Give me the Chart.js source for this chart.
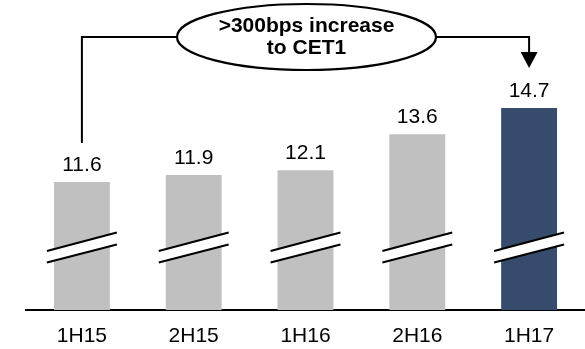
<!DOCTYPE html>
<html>
<head>
<meta charset="utf-8">
<script src="https://cdn.jsdelivr.net/npm/chart.js@4.4.1/dist/chart.umd.min.js"></script>
<style>
html,body{margin:0;padding:0;background:#fff;}
#wrap{width:585px;height:349px;position:relative;}
</style>
</head>
<body>
<div id="wrap"><canvas id="c" width="585" height="349"></canvas></div>
<script>
const categories = ['1H15', '2H15', '1H16', '2H16', '1H17'];
const cet1Values = [11.6, 11.9, 12.1, 13.6, 14.7];
const barColors = ['#C0C0C0', '#C0C0C0', '#C0C0C0', '#C0C0C0', '#374B6C'];
const calloutLines = ['>300bps increase', 'to CET1'];
const yMin = 6.24;
const yMax = 19.23;

const FONT = '"Liberation Sans", Arial, sans-serif';

const decorations = {
  id: 'decorations',
  afterDatasetsDraw(chart) {
    const ctx = chart.ctx;
    const meta = chart.getDatasetMeta(0);
    const area = chart.chartArea;
    const b = area.bottom;
    ctx.save();
    // break marks
    meta.data.forEach((bar) => {
      const half = bar.width / 2;
      const x0 = bar.x - half - 7, x1 = bar.x + half + 7;
      const uL = b - 59, uR = b - 77.5, lL = b - 47.5, lR = b - 65.5;
      ctx.fillStyle = '#fff';
      ctx.beginPath();
      ctx.moveTo(x0, uL); ctx.lineTo(x1, uR); ctx.lineTo(x1, lR); ctx.lineTo(x0, lL);
      ctx.closePath(); ctx.fill();
      ctx.strokeStyle = '#000'; ctx.lineWidth = 2;
      ctx.beginPath(); ctx.moveTo(x0, uL); ctx.lineTo(x1, uR); ctx.stroke();
      ctx.beginPath(); ctx.moveTo(x0, lL); ctx.lineTo(x1, lR); ctx.stroke();
    });
    // value labels
    ctx.fillStyle = '#000';
    ctx.font = '21px ' + FONT;
    ctx.textAlign = 'center';
    ctx.textBaseline = 'alphabetic';
    meta.data.forEach((bar, i) => {
      ctx.fillText(cet1Values[i].toFixed(1), bar.x, bar.y - 11);
    });
    // callout
    const xa = meta.data[0].x, xb = meta.data[meta.data.length - 1].x;
    const cx = 306.5, cy = 37, rx = 129.5, ry = 33;
    ctx.strokeStyle = '#000'; ctx.lineWidth = 2;
    ctx.beginPath();
    ctx.moveTo(xa, 143); ctx.lineTo(xa, cy); ctx.lineTo(cx - rx, cy);
    ctx.stroke();
    ctx.beginPath();
    ctx.moveTo(cx + rx, cy); ctx.lineTo(xb, cy); ctx.lineTo(xb, 54);
    ctx.stroke();
    ctx.fillStyle = '#000';
    ctx.beginPath();
    ctx.moveTo(xb - 8.5, 52); ctx.lineTo(xb + 8.5, 52); ctx.lineTo(xb, 68);
    ctx.closePath(); ctx.fill();
    ctx.fillStyle = '#fff';
    ctx.lineWidth = 2.2;
    ctx.beginPath();
    ctx.ellipse(cx, cy, rx, ry, 0, 0, Math.PI * 2);
    ctx.fill(); ctx.stroke();
    ctx.fillStyle = '#000';
    ctx.font = 'bold 21px ' + FONT;
    ctx.textBaseline = 'middle';
    ctx.fillText(calloutLines[0], cx, 26);
    ctx.fillText(calloutLines[1], cx, 48);
    ctx.restore();
  }
};

new Chart(document.getElementById('c'), {
  type: 'bar',
  data: {
    labels: categories,
    datasets: [{
      data: cet1Values,
      backgroundColor: barColors,
      borderWidth: 0,
      barPercentage: 0.5,
      categoryPercentage: 1.0
    }]
  },
  options: {
    responsive: false,
    animation: false,
    devicePixelRatio: 1,
    layout: { padding: { left: 26, right: 0, top: 0, bottom: 0 } },
    plugins: { legend: { display: false }, tooltip: { enabled: false } },
    scales: {
      x: {
        grid: { display: false, drawTicks: false },
        border: { display: true, color: '#000', width: 2 },
        ticks: { color: '#000', font: { family: FONT, size: 21, lineHeight: 1.2 }, padding: 14, maxRotation: 0 },
        afterFit: (s) => { s.height = 39; }
      },
      y: {
        display: false,
        min: yMin,
        max: yMax
      }
    }
  },
  plugins: [decorations]
});
</script>
</body>
</html>
